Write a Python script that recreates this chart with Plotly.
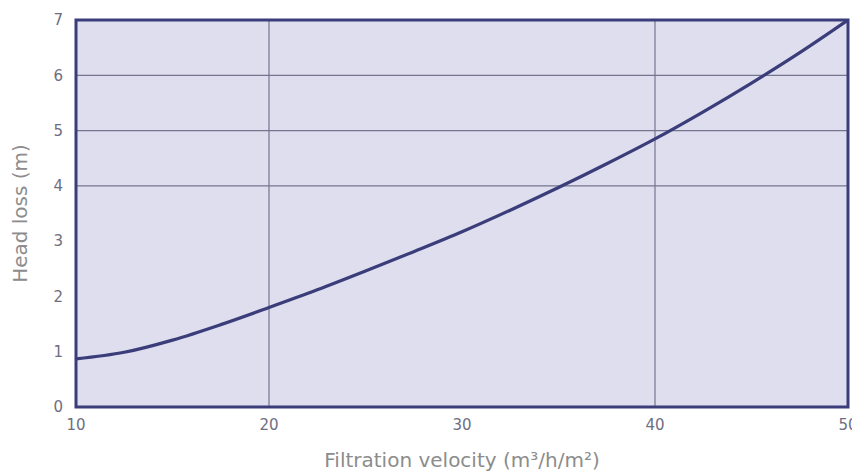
import plotly.graph_objects as go

velocity = [10, 12.5, 15, 17.5, 20, 22.5, 25, 27.5, 30, 32.5, 35, 37.5, 40, 42.5, 45, 47.5, 50]
head_loss = [0.87, 0.99, 1.21, 1.49, 1.80, 2.12, 2.46, 2.81, 3.17, 3.56, 3.97, 4.40, 4.85, 5.34, 5.86, 6.41, 7.0]

x_ticks = [10, 20, 30, 40, 50]
y_ticks = [0, 1, 2, 3, 4, 5, 6, 7]
x_grid = [20, 40]
y_grid = [4, 5, 6]

navy = "#3a3d7a"

fig = go.Figure()
fig.add_trace(go.Scatter(x=velocity, y=head_loss, mode="lines",
                         line=dict(color=navy, width=3.2, shape="spline", smoothing=1),
                         hoverinfo="skip", showlegend=False, cliponaxis=False))

shapes = []
for gx in x_grid:
    shapes.append(dict(type="line", xref="x", yref="paper", x0=gx, x1=gx, y0=0, y1=1,
                       line=dict(color="#74768f", width=1.2), layer="below"))
for gy in y_grid:
    shapes.append(dict(type="line", xref="paper", yref="y", x0=0, x1=1, y0=gy, y1=gy,
                       line=dict(color="#74768f", width=1.2), layer="below"))
shapes.append(dict(type="rect", xref="paper", yref="paper", x0=0, x1=1, y0=0, y1=1,
                   line=dict(color=navy, width=3), layer="above"))

tickfont = dict(family="DejaVu Sans, sans-serif", size=15, color="#6e6e82")
titlefont = dict(family="DejaVu Sans, sans-serif", size=20, color="#8c8c8c")

# page body has an 8px margin, so the figure is sized to end at the window edge
fig.update_layout(
    width=852, height=464,
    margin=dict(l=68, r=12, t=12, b=65),
    paper_bgcolor="white",
    plot_bgcolor="#dedeee",
    shapes=shapes,
    font=dict(family="DejaVu Sans, sans-serif", color="#777777", size=15),
    xaxis=dict(range=[10, 50], tickvals=x_ticks, showgrid=False, zeroline=False,
               automargin=False,
               ticks="outside", ticklen=4, tickcolor="rgba(0,0,0,0)",
               tickfont=tickfont,
               title=dict(text="Filtration velocity (m³/h/m²)", standoff=26,
                          font=titlefont)),
    yaxis=dict(range=[0, 7], tickvals=y_ticks, showgrid=False, zeroline=False,
               automargin=False,
               ticks="outside", ticklen=9, tickcolor="rgba(0,0,0,0)",
               tickfont=tickfont,
               title=dict(text="Head loss (m)", standoff=20,
                          font=titlefont)),
)

fig.write_html("out.html")
